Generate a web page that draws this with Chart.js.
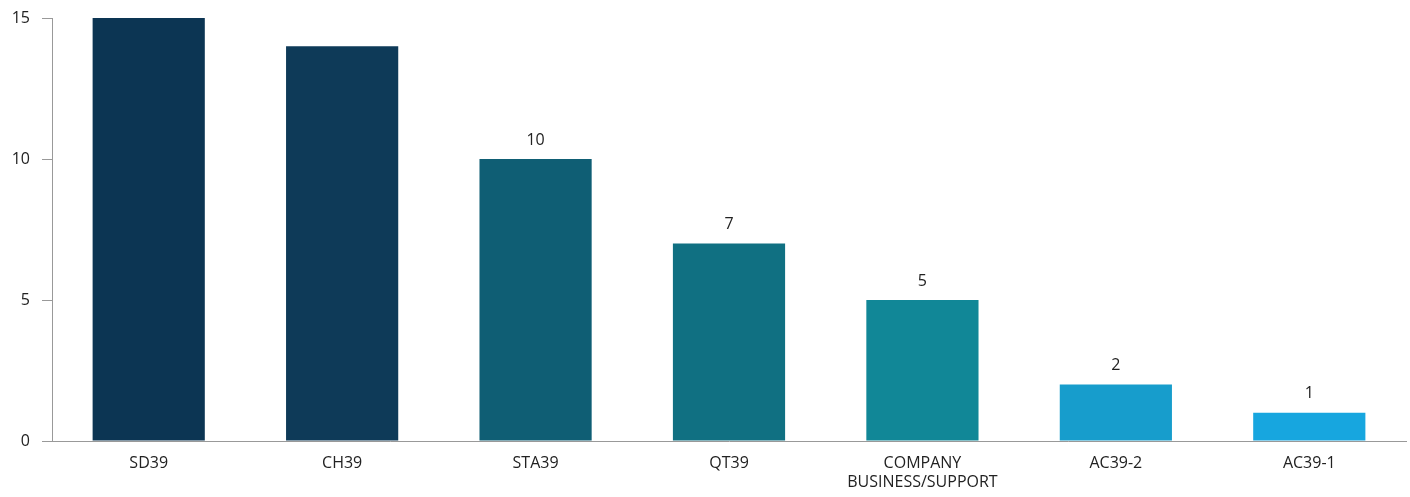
<!DOCTYPE html>
<html>
<head>
<meta charset="utf-8">
<script src="https://cdn.jsdelivr.net/npm/chart.js@4"></script>
<style>
  html, body { margin: 0; padding: 0; background: #fff; }
  #wrap { width: 1410px; height: 497px; }
</style>
</head>
<body>
<div id="wrap"><canvas id="barChart" width="1410" height="497"></canvas></div>
<script>
// chart data
const categories = ['SD39', 'CH39', 'STA39', 'QT39', ['COMPANY', 'BUSINESS/SUPPORT'], 'AC39-2', 'AC39-1'];
const counts = [15, 14, 10, 7, 5, 2, 1];
const labelShown = [false, false, true, true, true, true, true];
const barColors = ['#0c3553', '#0e3a58', '#0f5e74', '#107082', '#118797', '#179dcc', '#17a6df'];
const yTicks = [0, 5, 10, 15];

// value labels above bars
const valueLabels = {
    id: 'valueLabels',
    afterDatasetsDraw(chart) {
        const ctx = chart.ctx;
        const meta = chart.getDatasetMeta(0);
        ctx.save();
        ctx.font = '16px "Open Sans", sans-serif';
        ctx.fillStyle = '#222';
        ctx.textAlign = 'center';
        ctx.textBaseline = 'bottom';
        meta.data.forEach(function (bar, i) {
            if (!labelShown[i]) return;
            ctx.fillText(String(counts[i]), bar.x, bar.y - 11);
        });
        ctx.restore();
    }
};

const ctx = document.getElementById('barChart').getContext('2d');
const barChart = new Chart(ctx, {
    type: 'bar',
    data: {
        labels: categories,
        datasets: [{
            data: counts,
            backgroundColor: barColors,
            borderWidth: 0,
            categoryPercentage: 1,
            barPercentage: 0.58
        }]
    },
    options: {
        responsive: false,
        animation: false,
        layout: { padding: { top: 18, right: 4, left: 0, bottom: 0 } },
        plugins: {
            legend: { display: false },
            tooltip: { enabled: false }
        },
        scales: {
            x: {
                grid: { display: false, drawTicks: false },
                border: { color: '#999', width: 1 },
                ticks: {
                    color: '#222',
                    font: { family: '"Open Sans", sans-serif', size: 16 },
                    padding: 13,
                    maxRotation: 0,
                    autoSkip: false
                },
                afterFit(scale) { scale.height = 56; }
            },
            y: {
                min: 0,
                max: 15,
                afterBuildTicks(scale) {
                    scale.ticks = yTicks.map(v => ({ value: v }));
                },
                grid: { drawOnChartArea: false, drawTicks: true, tickLength: 10, color: '#999' },
                border: { color: '#999', width: 1 },
                ticks: {
                    color: '#222',
                    font: { family: '"Open Sans", sans-serif', size: 16 },
                    padding: 12
                },
                afterFit(scale) {
                    scale.width = 52;
                    scale.paddingTop = 0;
                    scale.paddingBottom = 0;
                }
            }
        }
    },
    plugins: [valueLabels]
});
</script>
</body>
</html>
